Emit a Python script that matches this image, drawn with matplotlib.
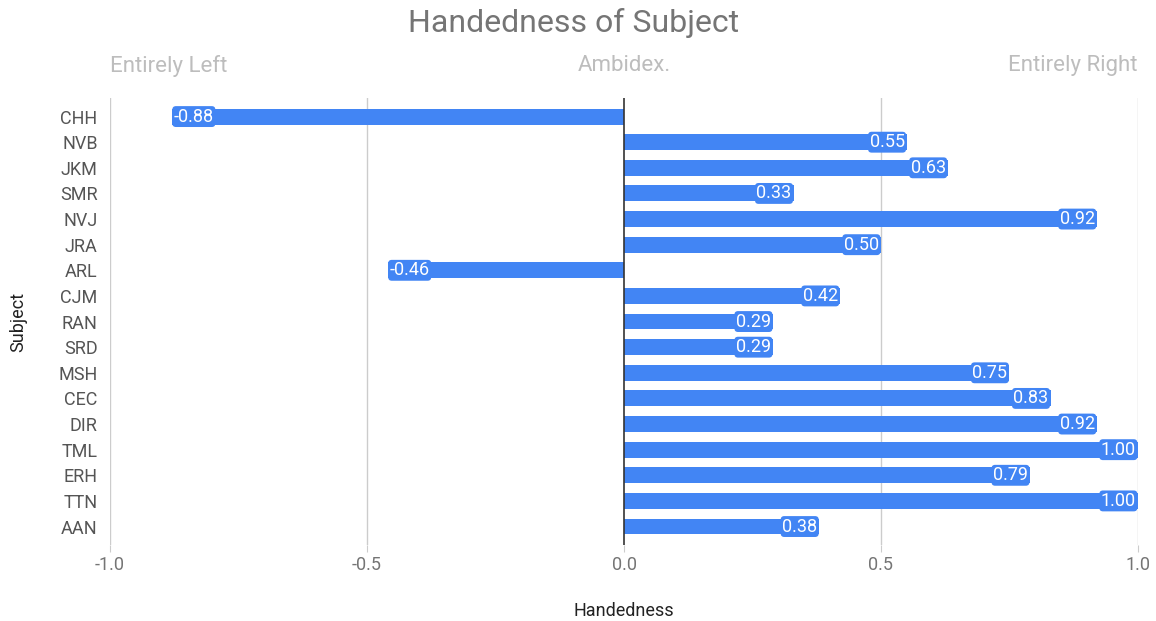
import matplotlib.pyplot as plt
import numpy as np

plt.rcParams["font.family"] = ["Roboto", "DejaVu Sans"]

# Subjects listed top to bottom, with handedness score (-1 left .. +1 right)
subjects = ["CHH", "NVB", "JKM", "SMR", "NVJ", "JRA", "ARL", "CJM", "RAN",
            "SRD", "MSH", "CEC", "DIR", "TML", "ERH", "TTN", "AAN"]
handedness = [-0.88, 0.55, 0.63, 0.33, 0.92, 0.50, -0.46, 0.42, 0.29,
              0.29, 0.75, 0.83, 0.92, 1.00, 0.79, 1.00, 0.38]
x_ticks = [-1.0, -0.5, 0.0, 0.5, 1.0]
scale_labels = ["Entirely Left", "Ambidex.", "Entirely Right"]

BLUE = "#4285f4"
GREY = "#757575"

fig = plt.figure(figsize=(11.56, 6.21), dpi=100)
ax = fig.add_axes([0.0952, 0.1224, 0.8892, 0.7196])

y = np.arange(len(subjects))
ax.barh(y, handedness, height=0.62, color=BLUE, zorder=3)

# value labels sit inside the outer end of each bar
for yi, v in zip(y, handedness):
    ha = "right" if v >= 0 else "left"
    off = -0.004 if v >= 0 else 0.004
    ax.text(v + off, yi, f"{v:.2f}", ha=ha, va="center", color="white",
            fontsize=13, zorder=4,
            bbox=dict(boxstyle="round,pad=0.08,rounding_size=0.2",
                      fc=BLUE, ec="none"))

ax.set_xlim(-1.0, 1.0)
ax.set_ylim(len(subjects) - 0.28, -0.72)
ax.set_yticks(y)
ax.set_yticklabels(subjects, fontsize=13, color="#555555")
ax.set_xticks(x_ticks)
ax.set_xticklabels([f"{t:.1f}" for t in x_ticks], fontsize=13, color=GREY)

for t in x_ticks:
    if t != 0:
        ax.axvline(t, color="#cccccc", linewidth=1, zorder=1)
ax.axvline(0, color="#333333", linewidth=1.2, zorder=5)

for s in ax.spines.values():
    s.set_visible(False)
ax.tick_params(axis="y", length=0, pad=9)
ax.tick_params(axis="x", length=5, color="#cccccc", pad=3)

ax.set_ylabel("Subject", fontsize=13, color="#222222", labelpad=22)
fig.text(0.5398, 1 - 611 / 621, "Handedness", ha="center", va="center",
         fontsize=13, color="#222222")

fig.text(0.4965, 1 - 23 / 621, "Handedness of Subject", ha="center",
         va="center", fontsize=23, color=GREY)
# scale descriptors above the plot
for x, lab, ha in zip(x_ticks[::2], scale_labels, ["left", "center", "right"]):
    ax.text(x, 1.072, lab, transform=ax.get_xaxis_transform(),
            ha=ha, va="center", fontsize=16, color="#bdbdbd")

fig.savefig("out.png", dpi=100)
